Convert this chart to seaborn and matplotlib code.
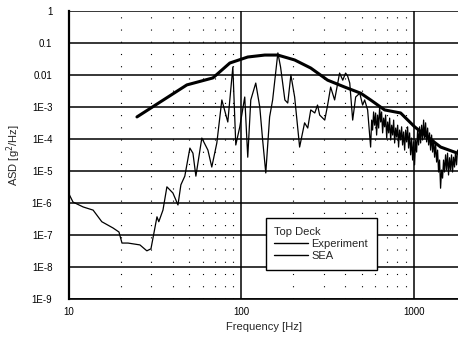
import numpy as np
import pandas as pd
import seaborn as sns
import matplotlib
matplotlib.use("Agg")
import matplotlib.pyplot as plt
from matplotlib.ticker import FixedLocator, LogLocator, NullFormatter

# ---- data ----
exp_freq = [10, 10.55, 12.1, 13.8, 15.5, 18.0, 19.5, 20.3, 22.0, 25.8, 28.3, 29.9, 32.4, 33.2,
            35.1, 37.0, 40.1, 42.9, 44.6, 47.0, 50.3, 52.4, 54.5, 59.0, 64.0, 67.4, 72.1, 77.1,
            83.5, 89.3, 92.9, 98.0, 104.7, 109, 113.5, 121.3, 128, 133, 138.7, 146, 152, 163,
            169, 179, 186, 194, 204, 218, 233, 243, 253, 267, 277, 285, 305, 317, 330, 348,
            372, 388, 403, 414, 426, 443, 461, 487, 506, 520, 541,
            563, 571, 578, 586, 594, 602, 610, 618, 627, 635, 644, 652, 661, 670, 679, 688,
            698, 707, 717, 726, 736, 746, 756, 766, 776, 787, 797, 808, 818, 829, 841, 852,
            863, 875, 887, 899, 911, 923, 935, 948, 961, 974, 987, 1000, 1013, 1027, 1041,
            1055, 1069, 1083, 1098, 1113, 1128, 1143, 1158, 1174, 1190, 1206, 1222, 1238,
            1255, 1272, 1289, 1306, 1324, 1341, 1360, 1378, 1396, 1415, 1434, 1453, 1473,
            1492, 1512, 1533, 1553, 1574, 1595, 1617, 1638, 1660, 1683, 1705, 1728, 1751,
            1775, 1799]
exp_asd = [1.9e-6, 1.07e-6, 7.5e-7, 6.0e-7, 2.6e-7, 1.66e-7, 1.24e-7, 5.6e-8, 5.6e-8, 4.9e-8,
           3.2e-8, 3.7e-8, 3.7e-7, 2.6e-7, 6.0e-7, 3.2e-6, 2.05e-6, 8.7e-7, 3.7e-6, 6.9e-6,
           5.2e-5, 3.6e-5, 6.9e-6, 1.07e-4, 4.5e-5, 1.33e-5, 7.5e-5, 1.66e-3, 3.4e-4, 1.78e-2,
           6.5e-5, 2.4e-4, 2.05e-3, 2.7e-5, 1.66e-3, 5.6e-3, 1.0e-3, 9.3e-5, 8.7e-6, 4.9e-4,
           1.66e-3, 4.9e-2, 1.78e-2, 1.66e-3, 1.33e-3, 1.0e-2, 2.05e-3, 5.6e-5, 3.2e-4, 2.2e-4,
           8.1e-4, 6.5e-4, 1.15e-3, 5.6e-4, 3.9e-4, 1.15e-3, 4.2e-3, 1.66e-3, 1.15e-2, 6.9e-3,
           1.15e-2, 9.3e-3, 5.6e-3, 3.9e-4, 2.05e-3, 2.7e-3, 1.15e-3, 1.66e-3, 8.1e-4,
           5.6e-5, 3.9e-4, 1.9e-4, 7.0e-4, 2.7e-4, 6.5e-4, 1.33e-4, 5.6e-4, 2.2e-4, 1.0e-3,
           3.4e-4, 7.0e-4, 1.55e-4, 4.5e-4, 2.4e-4, 5.6e-4, 1.07e-4, 3.4e-4, 1.55e-4, 4.5e-4,
           9.3e-5, 2.7e-4, 1.33e-4, 3.9e-4, 7.5e-5, 2.2e-4, 1.15e-4, 2.7e-4, 5.6e-5, 1.9e-4,
           9.3e-5, 2.4e-4, 6.5e-5, 1.66e-4, 4.5e-5, 1.9e-4, 8.1e-5, 2.4e-4, 5.2e-5, 1.55e-4,
           3.2e-5, 1.07e-4, 2.2e-5, 8.1e-5, 1.55e-5, 9.3e-5, 3.9e-5, 1.9e-4, 6.5e-5, 2.4e-4,
           7.5e-5, 2.7e-4, 9.3e-5, 3.9e-4, 1.07e-4, 3.2e-4, 8.1e-5, 2.2e-4, 6.5e-5, 1.55e-4,
           4.5e-5, 1.33e-4, 3.9e-5, 9.3e-5, 2.7e-5, 7.5e-5, 1.9e-5, 4.5e-5, 9.3e-6, 2.2e-5,
           2.9e-6, 1.07e-5, 6.0e-6, 2.2e-5, 9.3e-6, 3.2e-5, 1.07e-5, 3.6e-5, 7.5e-6, 2.6e-5,
           1.07e-5, 3.2e-5, 9.3e-6, 2.7e-5, 1.33e-5, 3.9e-5, 1.55e-5, 4.5e-5]

sea_freq = [24.8, 48.3, 68.4, 85.8, 109, 136.8, 162.8, 204, 253, 317, 398, 493, 563, 679,
            841, 1014, 1205, 1435, 1800]
sea_asd = [4.9e-4, 4.9e-3, 8.1e-3, 2.37e-2, 3.65e-2, 4.2e-2, 4.2e-2, 2.95e-2, 1.65e-2, 6.9e-3,
           4.2e-3, 2.7e-3, 1.66e-3, 8.1e-4, 6.5e-4, 2.4e-4, 1.16e-4, 5.6e-5, 3.6e-5]

y_ticks = [1, 0.1, 0.01, 1e-3, 1e-4, 1e-5, 1e-6, 1e-7, 1e-8, 1e-9]
y_labels = ["1", "0.1", "0.01", "1E-3", "1E-4", "1E-5", "1E-6", "1E-7", "1E-8", "1E-9"]
x_ticks = [10, 100, 1000]
x_labels = ["10", "100", "1000"]

sns.set_style("white")
plt.rcParams['font.family'] = ['Liberation Sans', 'DejaVu Sans']

fig = plt.figure(figsize=(4.58, 3.45), dpi=100)
ax = fig.add_axes([69/458, 46/345, 389/458, 288/345])

df_exp = pd.DataFrame({"f": exp_freq, "asd": exp_asd})
df_sea = pd.DataFrame({"f": sea_freq, "asd": sea_asd})

sns.lineplot(data=df_exp, x="f", y="asd", ax=ax, color="black", lw=0.9,
             label="Experiment", estimator=None, sort=False)
sns.lineplot(data=df_sea, x="f", y="asd", ax=ax, color="black", lw=2.2,
             label="SEA", estimator=None, sort=False)

ax.set_xscale("log")
ax.set_yscale("log")
ax.set_xlim(10, 1810)
ax.set_ylim(1e-9, 1)

ax.yaxis.set_major_locator(FixedLocator(y_ticks))
ax.set_yticklabels(y_labels)
ax.xaxis.set_major_locator(FixedLocator(x_ticks))
ax.set_xticklabels(x_labels)
ax.xaxis.set_minor_locator(LogLocator(base=10, subs=np.arange(2, 10)))
ax.yaxis.set_minor_locator(LogLocator(base=10, subs=np.arange(2, 10), numticks=20))
ax.xaxis.set_minor_formatter(NullFormatter())
ax.yaxis.set_minor_formatter(NullFormatter())

ax.tick_params(axis="both", which="major", labelsize=7, direction="in", length=3,
               width=1, colors="black", pad=4)
ax.tick_params(axis="both", which="minor", direction="in", length=2.5, width=0.8,
               colors="black")
ax.tick_params(axis="y", which="major", pad=12)
ax.tick_params(axis="x", which="major", pad=6)

ax.grid(which="major", axis="both", color="black", lw=1.1, linestyle="-")
ax.grid(which="minor", axis="x", color="black", lw=0.8, linestyle=(0, (1, 10)))

for s in ["top", "right"]:
    ax.spines[s].set_visible(False)
ax.spines["left"].set_linewidth(1.6)
ax.spines["bottom"].set_linewidth(1.2)
ax.spines["left"].set_color("black")
ax.spines["bottom"].set_color("black")

ax.set_xlabel("Frequency [Hz]", fontsize=8, labelpad=3)
ax.set_ylabel("ASD [g$^2$/Hz]", fontsize=8, labelpad=6)

leg = ax.legend(title="Top Deck", loc="upper left", bbox_to_anchor=(0.491, 0.299),
                fontsize=8, title_fontsize=8, frameon=True, fancybox=False,
                edgecolor="black", framealpha=1, handlelength=3.0, handletextpad=0.3,
                borderpad=0.8, labelspacing=0.15)
leg._legend_box.align = "left"
leg.get_frame().set_linewidth(1.0)
for h in leg.get_lines():
    h.set_linewidth(1.0)

fig.savefig("out.png", dpi=100)
